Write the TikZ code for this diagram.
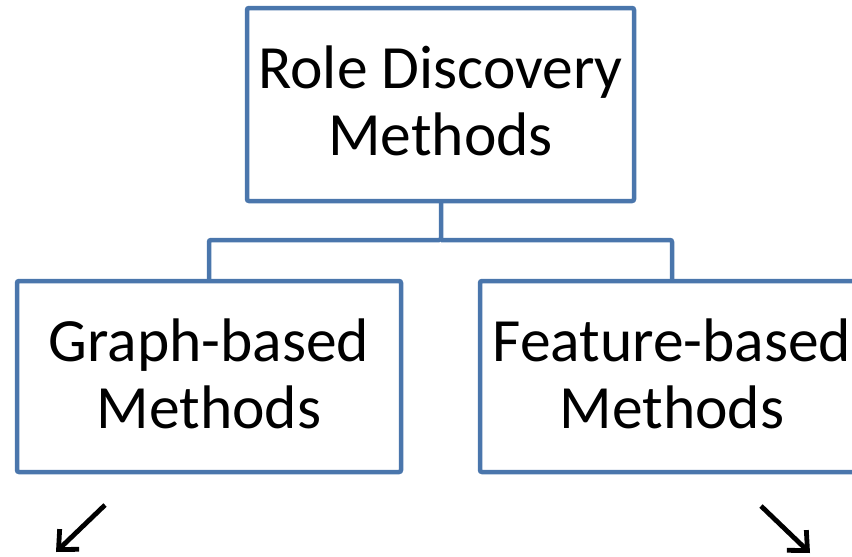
\documentclass[tikz,border=0pt]{standalone}
\usepackage{fontspec}
\setmainfont{Carlito}
\usetikzlibrary{arrows.meta}
\definecolor{boxblue}{RGB}{74,118,172}
\begin{document}
\begin{tikzpicture}[x=1pt,y=-1pt,
  methodbox/.style={draw=boxblue, line width=4.5pt, rounded corners=2pt, fill=white,
    minimum width=384pt, minimum height=191pt, inner sep=0pt},
  caption/.style={font=\fontsize{61.5}{67}\selectfont, align=center, inner sep=0pt},
  link/.style={draw=boxblue, line width=4.5pt, rounded corners=2pt},
  pointer/.style={draw=black, line width=4.8pt, -{Straight Barb[length=15pt,width=28pt,line width=4.8pt]}}]
  \useasboundingbox (0,0) rectangle (852,557);
  \clip (0,0) rectangle (852,557);
  % hierarchy connectors
  \draw[link] (441,104) -- (441,240) -| (209,376);
  \draw[link] (441,240) -| (672,376);
  % boxes
  \node[methodbox, minimum width=387pt, minimum height=193pt] (root) at (440.5,104.5) {};
  \node[methodbox] (graph) at (209,376.5) {};
  \node[methodbox] (feature) at (672,376.5) {};
  % box captions, set slightly above centre
  \node[caption] (rootcap) at ([yshift=4pt]root.center) {Role Discovery\\Methods};
  \node[caption] (graphcap) at ([yshift=3pt]graph.center) {Graph-based\\Methods};
  \node[caption] (featurecap) at ([yshift=3pt]feature.center) {Feature-based\\Methods};
  % pointers below the boxes
  \coordinate (ga) at (105,505);
  \coordinate (gb) at (56,552);
  \coordinate (fa) at (761,506);
  \coordinate (fb) at (810,553);
  \draw[pointer] (ga) -- (gb);
  \draw[pointer] (fa) -- (fb);
\end{tikzpicture}
\end{document}
